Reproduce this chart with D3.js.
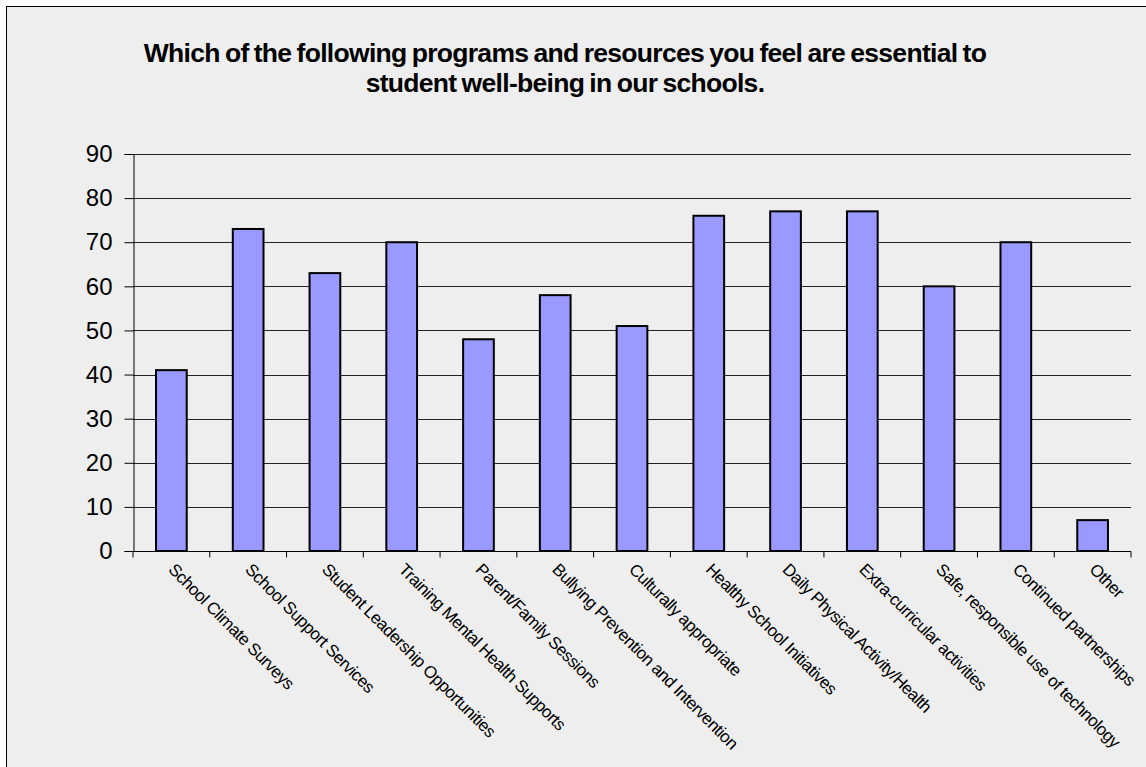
<!DOCTYPE html>
<html><head><meta charset="utf-8">
<script src="https://cdn.jsdelivr.net/npm/d3@7"></script>
<style>body{margin:0;background:#fff}svg{display:block}</style>
</head><body><svg id="c" width="1146" height="767"></svg>
<script>
const categories = ["School Climate Surveys","School Support Services","Student Leadership Opportunities","Training Mental Health Supports","Parent/Family Sessions","Bullying Prevention and Intervention","Culturally appropriate","Healthy School Initiatives","Daily Physical Activity/Health","Extra-curricular activities","Safe, responsible use of technology","Continued partnerships","Other"];
const values = [41,73,63,70,48,58,51,76,77,77,60,70,7];
const yTicks = [0,10,20,30,40,50,60,70,80,90];
const titleLines = ["Which of the following programs and resources you feel are essential to","student well-being in our schools."];

const svg = d3.select("#c");
svg.append("rect").attr("x",6.5).attr("y",6.5).attr("width",1150).attr("height",770).attr("fill","#eeeeee").attr("stroke","#000").attr("stroke-width",1);

const L=133, R=1131, T=154, B=551;
const x = d3.scaleBand().domain(categories).range([L,R]).paddingInner(0.6).paddingOuter(0.3);
const xb = d3.scaleBand().domain(categories).range([L,R]);
const y = d3.scaleLinear().domain([0,90]).range([B,T]);

svg.selectAll("text.title").data(titleLines).join("text")
  .attr("x",565).attr("y",(d,i)=>62+i*30).attr("text-anchor","middle")
  .attr("font-family","Liberation Sans, Arial, sans-serif").attr("font-weight","bold").attr("font-size",26.5)
  .attr("letter-spacing",-0.7).attr("word-spacing",-1.5).attr("fill","#000").text(d=>d);

// gridlines
svg.append("g").selectAll("line").data(yTicks.filter(d=>d>0)).join("line")
  .attr("x1",L).attr("x2",R).attr("y1",d=>Math.round(y(d))+0.5).attr("y2",d=>Math.round(y(d))+0.5)
  .attr("stroke","#222").attr("stroke-width",1);

// y axis
const ya = svg.append("g").attr("transform",`translate(${L+0.5},0)`)
  .call(d3.axisLeft(y).tickValues(yTicks).tickSize(9).tickPadding(12));
ya.select(".domain").attr("stroke","#000");
ya.selectAll(".tick line").attr("stroke","#000");
ya.selectAll("text").attr("font-family","Liberation Sans, Arial, sans-serif").attr("font-size",24).attr("fill","#000");

// bars
svg.append("g").selectAll("rect").data(values).join("rect")
  .attr("x",(d,i)=>x(categories[i])).attr("width",x.bandwidth())
  .attr("y",d=>y(d)).attr("height",d=>B-y(d))
  .attr("fill","#9999ff").attr("stroke","#000").attr("stroke-width",2);

// x axis
const xa = svg.append("g").attr("transform",`translate(0,${B+0.5})`);
xa.append("line").attr("x1",L).attr("x2",R).attr("stroke","#000");
xa.selectAll("line.t").data(categories.concat(["end"])).join("line")
  .attr("x1",(d,i)=>L+i*xb.bandwidth()).attr("x2",(d,i)=>L+i*xb.bandwidth())
  .attr("y1",0).attr("y2",6).attr("stroke","#000");
xa.selectAll("text").data(categories).join("text")
  .attr("transform",d=>`translate(${xb(d)+xb.bandwidth()/2-4},${19}) rotate(45)`)
  .attr("font-family","Liberation Sans, Arial, sans-serif").attr("font-size",17).attr("letter-spacing",-0.5)
  .attr("fill","#000").text(d=>d);
</script></body></html>
